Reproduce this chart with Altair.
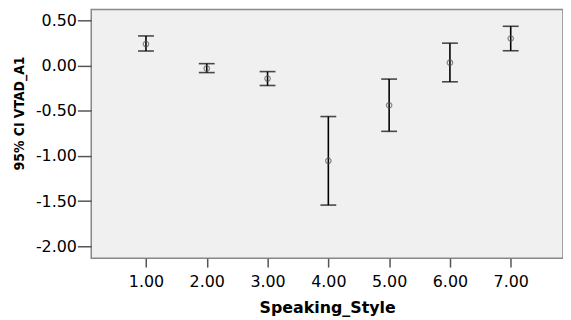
import altair as alt
import pandas as pd

styles = [1, 2, 3, 4, 5, 6, 7]
means = [0.24, -0.03, -0.142, -1.054, -0.438, 0.034, 0.302]
lower = [0.163, -0.076, -0.219, -1.544, -0.727, -0.178, 0.166]
upper = [0.33, 0.023, -0.065, -0.563, -0.148, 0.25, 0.437]

df = pd.DataFrame({"style": styles, "mean": means, "lo": lower, "hi": upper})

LFONT = "DejaVu Sans"
TFONT = "Liberation Sans Narrow, DejaVu Sans Condensed, Liberation Sans"
xscale = alt.Scale(domain=[0.1, 7.86], nice=False, zero=False)
yscale = alt.Scale(domain=[-2.132, 0.624], nice=False, zero=False)
lab = "replace(format(datum.value, '.2f'), '\u2212', '-')"

x = alt.X("style:Q", scale=xscale,
          axis=alt.Axis(values=styles, labelExpr=lab, title="Speaking_Style",
                        grid=False, domain=False, tickSize=9, tickColor="#555",
                        tickWidth=1.5, labelPadding=7, titlePadding=10,
                        titleFont="DejaVu Sans", titleFontSize=16))
y_axis = alt.Axis(values=[0.5, 0, -0.5, -1, -1.5, -2], labelExpr=lab,
                  title="95% CI VTAD_A1", grid=False, domain=False, tickSize=14,
                  tickColor="#555", tickWidth=1.5, labelPadding=1,
                  titleX=-65, titleY=104.5,
                  titleFont=TFONT, titleFontSize=14)

base = alt.Chart(df)
bars = base.mark_rule(color="black", strokeWidth=1.6).encode(
    x=x, y=alt.Y("lo:Q", scale=yscale, axis=y_axis), y2="hi:Q")
caps_lo = base.mark_tick(color="black", orient="horizontal", size=16, thickness=1.6).encode(
    x="style:Q", y=alt.Y("lo:Q", scale=yscale))
caps_hi = base.mark_tick(color="black", orient="horizontal", size=16, thickness=1.6).encode(
    x="style:Q", y=alt.Y("hi:Q", scale=yscale))
pts = base.mark_point(shape="circle", filled=False, size=30, color="#555", strokeWidth=1.2).encode(
    x="style:Q", y=alt.Y("mean:Q", scale=yscale))

chart = alt.layer(bars, caps_lo, caps_hi, pts).properties(
    width=476, height=251,
    autosize=alt.AutoSizeParams(type="none"),
    padding={"left": 84, "top": 0, "right": 0, "bottom": 64},
).configure_view(
    fill="#f0f0f0", stroke="#888888", strokeWidth=1.5
).configure_axis(
    labelFont=LFONT, labelFontSize=16, labelColor="black",
    titleFontWeight="bold", titleColor="black",
)

chart.save("out.html", embed_options={"renderer": "svg", "actions": False})
